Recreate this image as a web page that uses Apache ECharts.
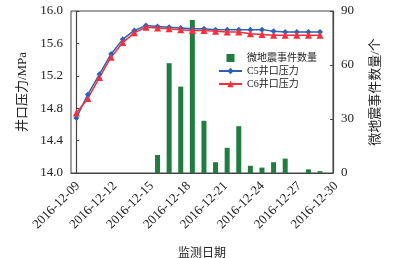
<!DOCTYPE html>
<html><head><meta charset="utf-8">
<script src="https://cdn.jsdelivr.net/npm/echarts@6/dist/echarts.min.js"></script>
<style>html,body{margin:0;padding:0;background:#fff}#c{width:394px;height:258px}</style>
</head><body><div id="c"></div>
<script>
const dates = ['2016-12-09','2016-12-10','2016-12-11','2016-12-12','2016-12-13','2016-12-14','2016-12-15','2016-12-16','2016-12-17','2016-12-18','2016-12-19','2016-12-20','2016-12-21','2016-12-22','2016-12-23','2016-12-24','2016-12-25','2016-12-26','2016-12-27','2016-12-28','2016-12-29','2016-12-30'];
const xTickIdx = [0,3,6,9,12,15,18,21];
const events = [0,0,0,0,0,0,0,10,61,48,85,29,6,14,26,4,3,6,8,0,2,1];
const c5 = [14.68,14.97,15.22,15.47,15.65,15.76,15.82,15.81,15.80,15.79,15.78,15.78,15.77,15.77,15.77,15.77,15.77,15.75,15.74,15.74,15.74,15.74];
const c6 = [14.74,14.92,15.18,15.43,15.61,15.73,15.80,15.79,15.78,15.77,15.76,15.76,15.75,15.74,15.74,15.72,15.71,15.70,15.70,15.70,15.70,15.70];

const FONT = '"Liberation Serif","Noto Sans CJK SC",serif';
const pairs = arr => arr.map((v,i)=>[i,v]);
const barData = events.map((v,i)=>[i,v]).filter(d=>d[1]>0);

const chart = echarts.init(document.getElementById('c'), null, {renderer:'canvas'});
chart.setOption({
  animation:false,
  textStyle:{fontFamily:FONT},
  grid:[
    {left:71,right:61,top:11,bottom:85,show:true,borderColor:'#444',borderWidth:1,backgroundColor:'transparent',
      containLabel:false, outerBoundsMode:'none'},
    {left:71,right:49,top:11,bottom:85,show:false,containLabel:false, outerBoundsMode:'none'}
  ],
  legend:{
    orient:'vertical', left:213, top:48, itemWidth:23, itemHeight:8, itemGap:3,
    textStyle:{fontFamily:FONT,fontSize:10,color:'#222'},
    data:[
      {name:'微地震事件数量', icon:'path://M0,0L1,0L1,1L0,1Z'},
      {name:'C5井口压力'},
      {name:'C6井口压力'}
    ]
  },
  xAxis:[{
    type:'value', gridIndex:0, min:-0.457, max:22.12,
    name:'监测日期', nameLocation:'middle', nameGap:75,
    nameTextStyle:{fontFamily:FONT,fontSize:12,color:'#222'},
    axisLine:{show:true,lineStyle:{color:'#444',width:1.2}},
    axisTick:{show:false},
    splitLine:{show:false},
    axisLabel:{show:false}
  },{
    type:'value', gridIndex:1, min:-0.569, max:21.71,
    axisLine:{show:false}, axisTick:{show:false}, splitLine:{show:false},
    axisLabel:{customValues:xTickIdx, rotate:45, margin:11, fontSize:13, color:'#222', fontFamily:FONT,
      formatter:v=>dates[Math.round(v)]||''}
  }],
  yAxis:[{
    type:'value', gridIndex:0, min:14, max:16, interval:0.4, position:'left',
    name:'井口压力/MPa', nameLocation:'middle', nameGap:38,
    nameTextStyle:{fontFamily:FONT,fontSize:13,color:'#222'},
    axisLine:{show:true,lineStyle:{color:'#444',width:1.2}},
    axisTick:{show:true,inside:true,length:3,lineStyle:{color:'#444'}},
    splitLine:{show:false},
    axisLabel:{fontSize:13,color:'#222',fontFamily:FONT,margin:8,formatter:v=>v.toFixed(1)}
  },{
    type:'value', gridIndex:0, min:0, max:90, interval:30, position:'right',
    name:'微地震事件数量/个', nameLocation:'middle', nameGap:36,
    nameTextStyle:{fontFamily:FONT,fontSize:13,color:'#222'},
    axisLine:{show:true,lineStyle:{color:'#444',width:1.2}},
    axisTick:{show:true,inside:true,length:3,lineStyle:{color:'#444'}},
    splitLine:{show:false},
    axisLabel:{fontSize:13,color:'#222',fontFamily:FONT,margin:8}
  },{
    type:'value', gridIndex:1, min:0, max:1, show:false
  }],
  series:[
    {name:'微地震事件数量', type:'bar', xAxisIndex:0, yAxisIndex:1, barWidth:5, data:barData,
      itemStyle:{color:'#1f7d3f'}},
    {name:'C5井口压力', type:'line', xAxisIndex:0, yAxisIndex:0, data:pairs(c5),
      symbol:'diamond', symbolSize:6, lineStyle:{color:'#2c62b5',width:1.5},
      itemStyle:{color:'#2c62b5'}},
    {name:'C6井口压力', type:'line', xAxisIndex:0, yAxisIndex:0, data:pairs(c6),
      symbol:'triangle', symbolSize:7, lineStyle:{color:'#f4303f',width:1.5},
      itemStyle:{color:'#f4303f'}}
  ]
});
</script></body></html>
